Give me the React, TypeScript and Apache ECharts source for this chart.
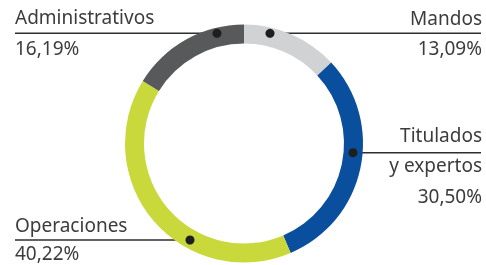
import React, { useEffect, useRef } from "react";
import * as echarts from "echarts";

const categories = ["Mandos", "Titulados y expertos", "Operaciones", "Administrativos"];
const values = [13.09, 30.5, 40.22, 16.19];
const colors = ["#d1d2d4", "#0a4f9e", "#c9d93b", "#58595b"];

const fmt = (v: number) => v.toFixed(2).replace(".", ",") + "%";

const TEXT_COLOR = "#3c3c3c";
const FONT = "Noto Sans";
const FS = 19;

export default function App() {
  const ref = useRef<HTMLDivElement>(null);
  useEffect(() => {
    if (!ref.current) return;
    const chart = echarts.init(ref.current, undefined, { renderer: "svg" });
    const cx = 244;
    const cy = 143.5;
    const text = (content: string, x: number, y: number, align: string) => ({
      type: "text",
      x,
      y,
      style: {
        text: content,
        fill: TEXT_COLOR,
        font: `${FS}px "${FONT}", sans-serif`,
        align,
        verticalAlign: "middle",
      },
    });
    const leader = (x1: number, x2: number, y: number, dx: number) => [
      { type: "line", shape: { x1, y1: y, x2, y2: y }, style: { stroke: "#2e2e2e", lineWidth: 1.5 } },
      { type: "circle", shape: { cx: dx, cy: y, r: 4.5 }, style: { fill: "#1e1e1e" }, z: 10 },
    ];
    chart.setOption({
      animation: false,
      series: [
        {
          type: "pie",
          center: [cx, cy],
          radius: [100, 119],
          startAngle: 90,
          clockwise: true,
          label: { show: false },
          labelLine: { show: false },
          emphasis: { disabled: true },
          silent: true,
          data: categories.map((c, i) => ({ name: c, value: values[i], itemStyle: { color: colors[i] } })),
        },
      ],
      graphic: [
        ...leader(15, 217, 33.3, 217),
        text(categories[3], 15, 17, "left"),
        text(fmt(values[3]), 15, 48, "left"),
        ...leader(270, 481, 33.3, 270),
        text(categories[0], 482, 18, "right"),
        text(fmt(values[0]), 482, 48, "right"),
        ...leader(353, 481, 152.7, 353),
        text("Titulados", 482, 135, "right"),
        text("y expertos", 482, 165, "right"),
        text(fmt(values[1]), 482, 196, "right"),
        ...leader(15, 190, 240, 190),
        text(categories[2], 15, 225, "left"),
        text(fmt(values[2]), 15, 253, "left"),
      ],
    });
    return () => chart.dispose();
  }, []);
  return <div ref={ref} style={{ position: "fixed", left: 0, top: 0, width: 486, height: 265 }} />;
}
